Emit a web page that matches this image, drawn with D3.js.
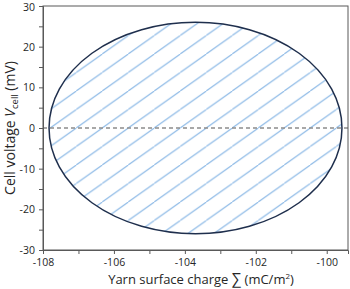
<!DOCTYPE html>
<html><head><meta charset="utf-8">
<script src="https://cdn.jsdelivr.net/npm/d3@7"></script>
<style>body{margin:0;background:#fff}svg{display:block}text{font-family:"Open Sans","Liberation Sans",sans-serif}</style>
</head><body>
<script>
// Data
const xDomain = [-108, -99.4];
const yDomain = [-30, 30];
const xTickLabels = [-108, -106, -104, -102, -100];
const yTickLabels = [-30, -20, -10, 0, 10, 20, 30];
const ellipseCenter = [-103.7, 0];   // [charge, voltage]
const ellipseRadii = [4.13, 26];     // [charge, voltage]
const zeroLine = [0];

const W = 350, H = 289;
const m = {l: 43, r: 2, t: 6, b: 39};
const svg = d3.select("body").append("svg").attr("width", W).attr("height", H);
const x = d3.scaleLinear().domain(xDomain).range([m.l, W - m.r]);
const y = d3.scaleLinear().domain(yDomain).range([H - m.b, m.t]);

// hatch pattern
const defs = svg.append("defs");
const pw = 26, ph = 18.5;
const pat = defs.append("pattern").attr("id", "hatch").attr("patternUnits", "userSpaceOnUse")
  .attr("width", pw).attr("height", ph).attr("x", 50.3).attr("y", y(0) - ph);
pat.append("line").attr("x1", -1).attr("y1", ph + ph / pw).attr("x2", pw + 1).attr("y2", -ph / pw)
  .attr("stroke", "#7fb1e3").attr("stroke-width", 1);

// ellipse
svg.append("ellipse")
  .attr("cx", x(ellipseCenter[0])).attr("cy", y(ellipseCenter[1]))
  .attr("rx", x(ellipseCenter[0] + ellipseRadii[0]) - x(ellipseCenter[0]))
  .attr("ry", y(ellipseCenter[1]) - y(ellipseCenter[1] + ellipseRadii[1]))
  .attr("fill", "url(#hatch)").attr("stroke", "#1f2f4d").attr("stroke-width", 1.5);

// zero dashed line
svg.selectAll(".zl").data(zeroLine).join("line")
  .attr("x1", x(xDomain[0])).attr("x2", x(xDomain[1]))
  .attr("y1", d => y(d)).attr("y2", d => y(d))
  .attr("stroke", "#8c8c8c").attr("stroke-width", 1.5).attr("stroke-dasharray", "4,3");

// frame
const axisCol = "#595959";
svg.append("rect").attr("x", m.l).attr("y", m.t).attr("width", W - m.r - m.l).attr("height", H - m.b - m.t)
  .attr("fill", "none").attr("stroke", axisCol).attr("stroke-width", 1);

// axes
const xAxis = svg.append("g").attr("transform", `translate(0,${H - m.b})`)
  .call(d3.axisBottom(x).tickValues(d3.range(-108, -99, 1)).tickSize(4)
    .tickFormat(d => xTickLabels.includes(d) ? d : ""));
const yAxis = svg.append("g").attr("transform", `translate(${m.l},0)`)
  .call(d3.axisLeft(y).tickValues(d3.range(-30, 31, 5)).tickSize(4)
    .tickFormat(d => yTickLabels.includes(d) ? d : ""));
[xAxis, yAxis].forEach(g => {
  g.select(".domain").attr("stroke", axisCol);
  g.selectAll(".tick line").attr("stroke", axisCol);
  g.selectAll(".tick text").attr("fill", "#262626").attr("font-size", 10.5)
    .attr("font-family", "'Open Sans','Liberation Sans',sans-serif");
});
xAxis.selectAll(".tick text").attr("dy", "0.9em");
yAxis.selectAll(".tick text").attr("dx", "-0.1em");
yAxis.selectAll(".tick").filter(d => d === 30).select("text").attr("dy", "0.42em");

// x title
const xt = svg.append("text").attr("x", 201).attr("y", 284).attr("text-anchor", "middle")
  .attr("font-size", 13).attr("fill", "#262626");
xt.append("tspan").text("Yarn surface charge ");
xt.append("tspan").text("∑").attr("font-size", 15);
xt.append("tspan").text(" (mC/m");
xt.append("tspan").text("2").attr("font-size", 8).attr("dy", -5);
xt.append("tspan").text(")").attr("dy", 5);

// y title
const yt = svg.append("text").attr("transform", `translate(15,128) rotate(-90)`).attr("text-anchor", "middle")
  .attr("font-size", 14).attr("fill", "#262626");
yt.append("tspan").text("Cell voltage ");
yt.append("tspan").text("V").attr("font-style", "italic");
yt.append("tspan").text("cell").attr("font-size", 9.5).attr("dy", 3);
yt.append("tspan").text(" (mV)").attr("dy", -3);
</script>
</body></html>
